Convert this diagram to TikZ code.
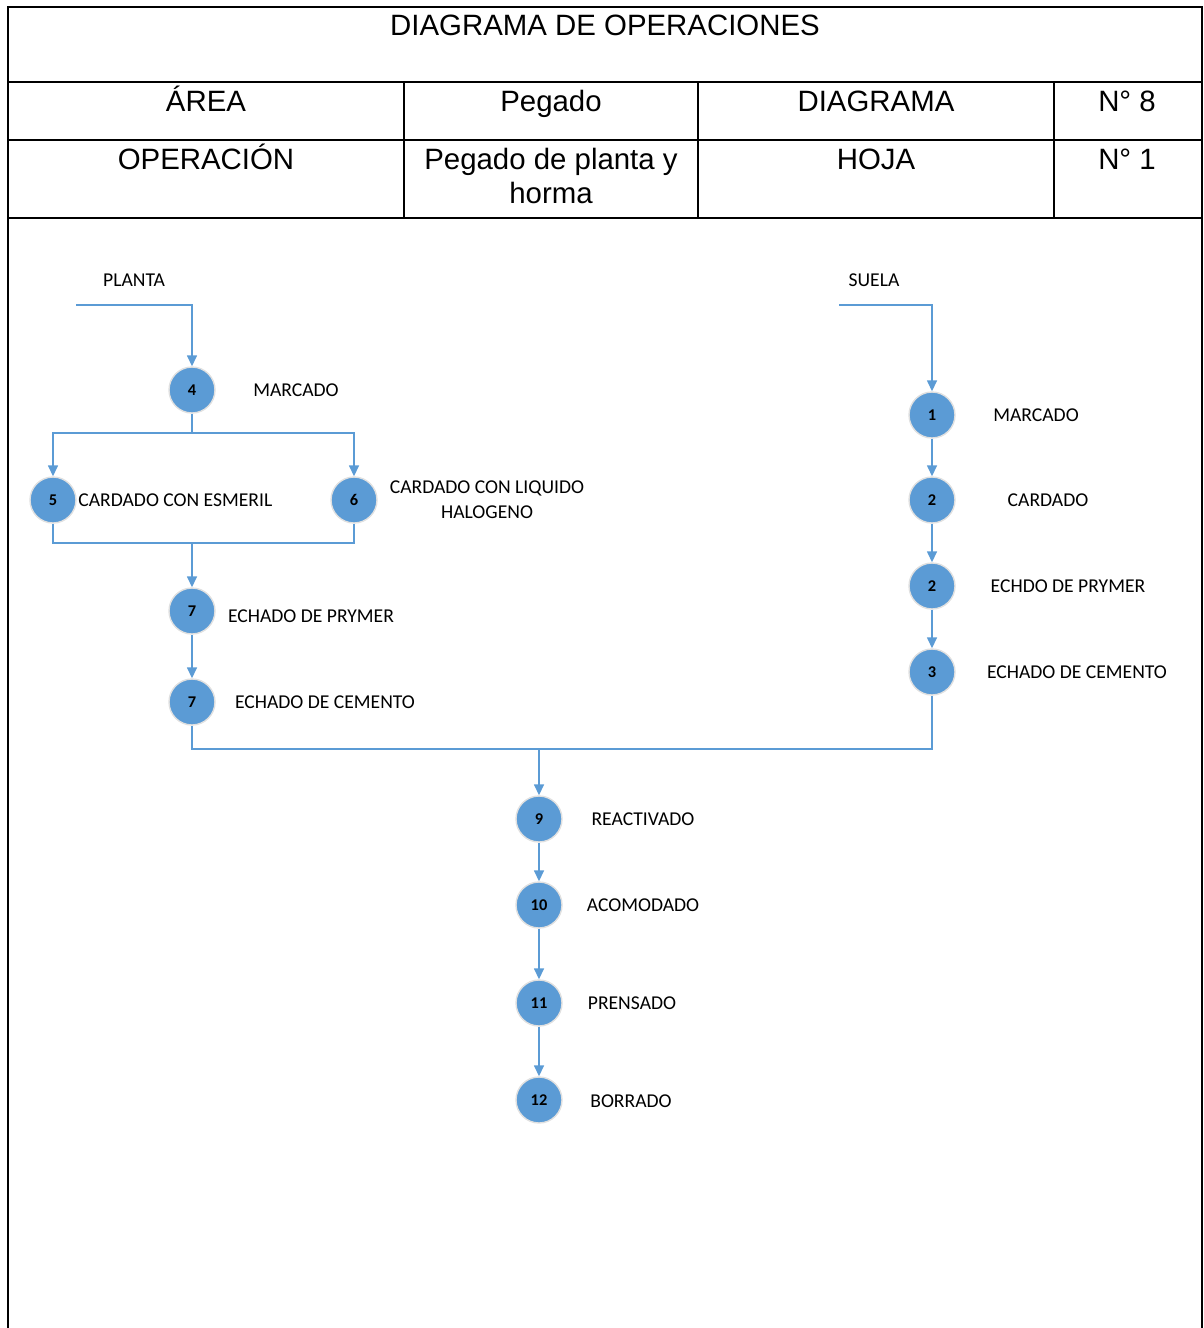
\documentclass[tikz,border=0pt]{standalone}
\usepackage{fontspec}
\setmainfont{Liberation Sans}
\newfontfamily\calibri{Carlito}
\usetikzlibrary{arrows.meta}
\definecolor{azul}{RGB}{91,155,213}

\begin{document}
\begin{tikzpicture}[x=0.5pt, y=-0.5pt, >={Triangle[width=5pt,length=5.5pt]},
		op/.style={circle, fill=azul, draw=black!12, line width=0.7pt, minimum size=23pt, inner sep=0pt,
			font=\calibri\bfseries\fontsize{8.2}{10}\selectfont},
		etiq/.style={font=\calibri\fontsize{9.8}{12.5}\selectfont, inner sep=0pt, align=center},
		celda/.style={font=\fontsize{14.7}{17}\selectfont, inner sep=0pt, anchor=base, align=center},
		flujo/.style={draw=azul, line width=0.75pt}]
				\useasboundingbox (0,0) rectangle (1204,1328);
				% Rahmen und Tabelle
				\draw[line width=1pt] (8,1328) -- (8,7) -- (1202,7) -- (1202,1328);
				\foreach \y in {82,140,218} \draw[line width=1pt] (8,\y) -- (1202,\y);
				\foreach \x in {404,698,1054} \draw[line width=0.6pt] (\x,82) -- (\x,218);
				% Tabelle beschriften
				\node[celda] (titulo) at (605,35) {DIAGRAMA DE OPERACIONES};
				\node[celda] (area) at (206,111) {ÁREA};
				\node[celda] (pegado) at (551,111) {Pegado};
				\node[celda] (diagrama) at (876,111) {DIAGRAMA};
				\node[celda] (ndiag) at (1127,111) {N° 8};
				\node[celda] (operacion) at (206,169) {OPERACIÓN};
				\node[celda, anchor=north] (pegplanta) at (551,148) {Pegado de planta y\\horma};
				\node[celda] (hoja) at (876,169) {HOJA};
				\node[celda] (nhoja) at (1127,169) {N° 1};
				% Operationen
				\foreach \n/\x/\y/\num in {c4/192/390/4, c5/53/500/5, c6/354/500/6, c7a/192/611/7, c7b/192/702/7,
					c1/932/415/1, c2a/932/500/2, c2b/932/586/2, c3/932/672/3,
					c9/539/819/9, c10/539/905/10, c11/539/1003/11, c12/539/1100/12}
					\node[op] (\n) at (\x,\y) {\num};
				% Beschriftung
				\node[etiq] (planta) at (134,280) {PLANTA};
				\node[etiq] (suela) at (874,280) {SUELA};
				\node[etiq] (tmarcado) at (296,390) {MARCADO};
				\node[etiq, anchor=west] (tesmeril) at (78,500) {CARDADO CON ESMERIL};
				\node[etiq] (tliquido) at (487,500) {CARDADO CON LIQUIDO\\HALOGENO};
				\node[etiq] (tprymer) at (311,616) {ECHADO DE PRYMER};
				\node[etiq] (tcemento) at (325,702) {ECHADO DE CEMENTO};
				\node[etiq] (tmarcados) at (1036,415) {MARCADO};
				\node[etiq] (tcardado) at (1048,500) {CARDADO};
				\node[etiq] (tprymers) at (1068,586) {ECHDO DE PRYMER};
				\node[etiq] (tcementos) at (1077,672) {ECHADO DE CEMENTO};
				\node[etiq] (treact) at (643,819) {REACTIVADO};
				\node[etiq] (tacom) at (643,905) {ACOMODADO};
				\node[etiq] (tprens) at (632,1003) {PRENSADO};
				\node[etiq] (tborr) at (631,1101) {BORRADO};
				% Verbindungen
				\coordinate (inP) at (76,305);
				\coordinate (inS) at (839,305);
				\coordinate (r4) at (192,433);
				\coordinate (m7) at (192,543);
				\coordinate (m9) at (539,749);
				\draw[flujo,->] (inP) -| (c4);
				\draw[flujo,->] (inS) -| (c1);
				\draw[flujo] (c4) -- (r4);
				\draw[flujo,->] (r4) -| (c5);
				\draw[flujo,->] (r4) -| (c6);
				\draw[flujo] (c5) |- (m7);
				\draw[flujo] (c6) |- (m7);
				\draw[flujo,->] (m7) -- (c7a);
				\draw[flujo] (c7b) |- (m9);
				\draw[flujo] (c3) |- (m9);
				\draw[flujo,->] (m9) -- (c9);
				\foreach \a/\b in {c7a/c7b, c1/c2a, c2a/c2b, c2b/c3, c9/c10, c10/c11, c11/c12}
					\draw[flujo,->] (\a) -- (\b);
		\end{tikzpicture}
\end{document}
